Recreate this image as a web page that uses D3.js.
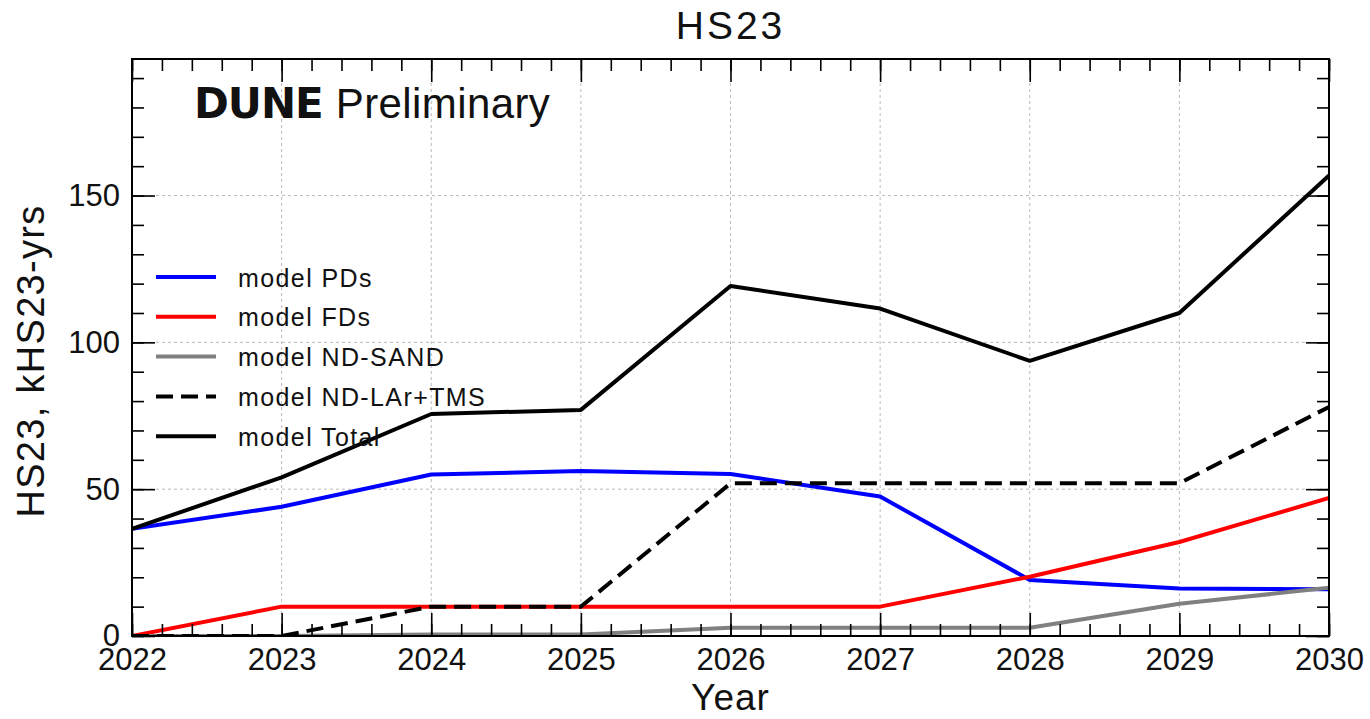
<!DOCTYPE html>
<html>
<head>
<meta charset="utf-8">
<script src="https://cdn.jsdelivr.net/npm/d3@7"></script>
<style>
  body { margin: 0; background: #fff; }
  svg text { font-family: "Liberation Sans", Arial, sans-serif; fill: #111; }
</style>
</head>
<body>
<div id="chart"></div>
<script>
// values
var years = [2022, 2023, 2024, 2025, 2026, 2027, 2028, 2029, 2030];
var pds   = [36.5, 44, 55, 56.2, 55.2, 47.5, 19.1, 16.2, 15.9];
var fds   = [0, 10, 10, 10, 10, 10, 20.2, 32, 47];
var sand  = [0, 0, 0.5, 0.5, 2.8, 2.8, 2.8, 11, 16.4];
var ndlar = [0, 0, 10, 10, 52, 52, 52, 52, 78];
var total = [36.5, 54, 75.6, 77, 119.2, 111.5, 93.7, 110, 156.8];

var seriesNames = ['model PDs', 'model FDs', 'model ND-SAND', 'model ND-LAr+TMS', 'model Total'];
var seriesVals = [pds, fds, sand, ndlar, total];
var seriesCols = ['#0000ff', '#ff0000', '#808080', '#000000', '#000000'];
var seriesDash = [null, null, null, '17,8', null];

var yMajor = [0, 50, 100, 150];

var W = 1370, H = 719;
var pL = 132, pR = 1329, pT = 59, pB = 636;

var svg = d3.select('#chart').append('svg').attr('width', W).attr('height', H);

var x = d3.scaleLinear().domain([2022, 2030]).range([pL, pR]);
var y = d3.scaleLinear().domain([0, 196.5]).range([pB, pT]);

svg.append('clipPath').attr('id', 'clip')
  .append('rect').attr('x', pL).attr('y', pT).attr('width', pR - pL).attr('height', pB - pT);

// grid
var grid = svg.append('g').attr('stroke', '#bbb').attr('stroke-width', 1).attr('stroke-dasharray', '3,3');
grid.selectAll('line.gx').data(years.slice(1, -1)).enter().append('line')
  .attr('x1', function(d) { return x(d); }).attr('x2', function(d) { return x(d); })
  .attr('y1', pT).attr('y2', pB);
grid.selectAll('line.gy').data(yMajor.slice(1)).enter().append('line')
  .attr('y1', function(d) { return y(d); }).attr('y2', function(d) { return y(d); })
  .attr('x1', pL).attr('x2', pR);

// lines
var line = d3.line().x(function(d, i) { return x(years[i]); }).y(function(d) { return y(d); });
var plot = svg.append('g').attr('clip-path', 'url(#clip)');
seriesVals.forEach(function(vals, k) {
  plot.append('path').datum(vals)
    .attr('d', line)
    .attr('fill', 'none')
    .attr('stroke', seriesCols[k])
    .attr('stroke-width', 4)
    .attr('stroke-linejoin', 'round')
    .attr('stroke-dasharray', seriesDash[k]);
});

// axes, ticks inward on all sides
var xMinor = d3.range(2022, 2030.001, 0.2);
var yMinor = d3.range(0, 196, 10);

function styleAxis(g) {
  g.select('.domain').remove();
  g.selectAll('.tick line').attr('stroke', '#000').attr('stroke-width', 1.6);
  g.selectAll('.tick text').style('font-size', '31px').attr('fill', '#111');
}

svg.append('g').attr('transform', 'translate(0,' + pB + ')')
  .call(d3.axisBottom(x).tickValues(years).tickFormat(d3.format('d')).tickSize(-23).tickPadding(12))
  .call(styleAxis);
svg.append('g').attr('transform', 'translate(0,' + pB + ')')
  .call(d3.axisBottom(x).tickValues(xMinor).tickFormat('').tickSize(-12))
  .call(styleAxis);
svg.append('g').attr('transform', 'translate(0,' + pT + ')')
  .call(d3.axisTop(x).tickValues(years).tickFormat('').tickSize(-23))
  .call(styleAxis);
svg.append('g').attr('transform', 'translate(0,' + pT + ')')
  .call(d3.axisTop(x).tickValues(xMinor).tickFormat('').tickSize(-12))
  .call(styleAxis);

svg.append('g').attr('transform', 'translate(' + pL + ',0)')
  .call(d3.axisLeft(y).tickValues(yMajor).tickSize(-23).tickPadding(12))
  .call(styleAxis);
svg.append('g').attr('transform', 'translate(' + pL + ',0)')
  .call(d3.axisLeft(y).tickValues(yMinor).tickFormat('').tickSize(-12))
  .call(styleAxis);
svg.append('g').attr('transform', 'translate(' + pR + ',0)')
  .call(d3.axisRight(y).tickValues(yMajor).tickFormat('').tickSize(-23))
  .call(styleAxis);
svg.append('g').attr('transform', 'translate(' + pR + ',0)')
  .call(d3.axisRight(y).tickValues(yMinor).tickFormat('').tickSize(-12))
  .call(styleAxis);

// frame
svg.append('rect').attr('x', pL).attr('y', pT).attr('width', pR - pL).attr('height', pB - pT)
  .attr('fill', 'none').attr('stroke', '#000').attr('stroke-width', 2);

// titles
svg.append('text').attr('x', (pL + pR) / 2).attr('y', 39).attr('text-anchor', 'middle')
  .style('font-size', '39px').style('letter-spacing', '3px').text('HS23');
svg.append('text').attr('x', (pL + pR) / 2).attr('y', 710).attr('text-anchor', 'middle')
  .style('font-size', '37px').style('letter-spacing', '1px').text('Year');
svg.append('text').attr('transform', 'translate(44,361) rotate(-90)').attr('text-anchor', 'middle')
  .style('font-size', '38px').style('letter-spacing', '1.3px').text('HS23, kHS23-yrs');

// DUNE Preliminary
var lab = svg.append('text').attr('x', 194).attr('y', 118).style('font-size', '42px');
lab.append('tspan').style('font-family', '"DejaVu Sans", sans-serif').style('font-weight', 'bold')
  .style('letter-spacing', '-1px').text('DUNE');
lab.append('tspan').attr('dx', 13).style('letter-spacing', '0.4px').text('Preliminary');

// legend
var leg = svg.append('g');
seriesNames.forEach(function(name, k) {
  var ly = 277 + k * 39.8;
  leg.append('line').attr('x1', 156).attr('x2', 216).attr('y1', ly).attr('y2', ly)
    .attr('stroke', seriesCols[k]).attr('stroke-width', 4)
    .attr('stroke-dasharray', seriesDash[k]);
  leg.append('text').attr('x', 238).attr('y', ly + 9.5).style('font-size', '25px')
    .style('letter-spacing', '1.4px').text(name);
});
</script>
</body>
</html>
